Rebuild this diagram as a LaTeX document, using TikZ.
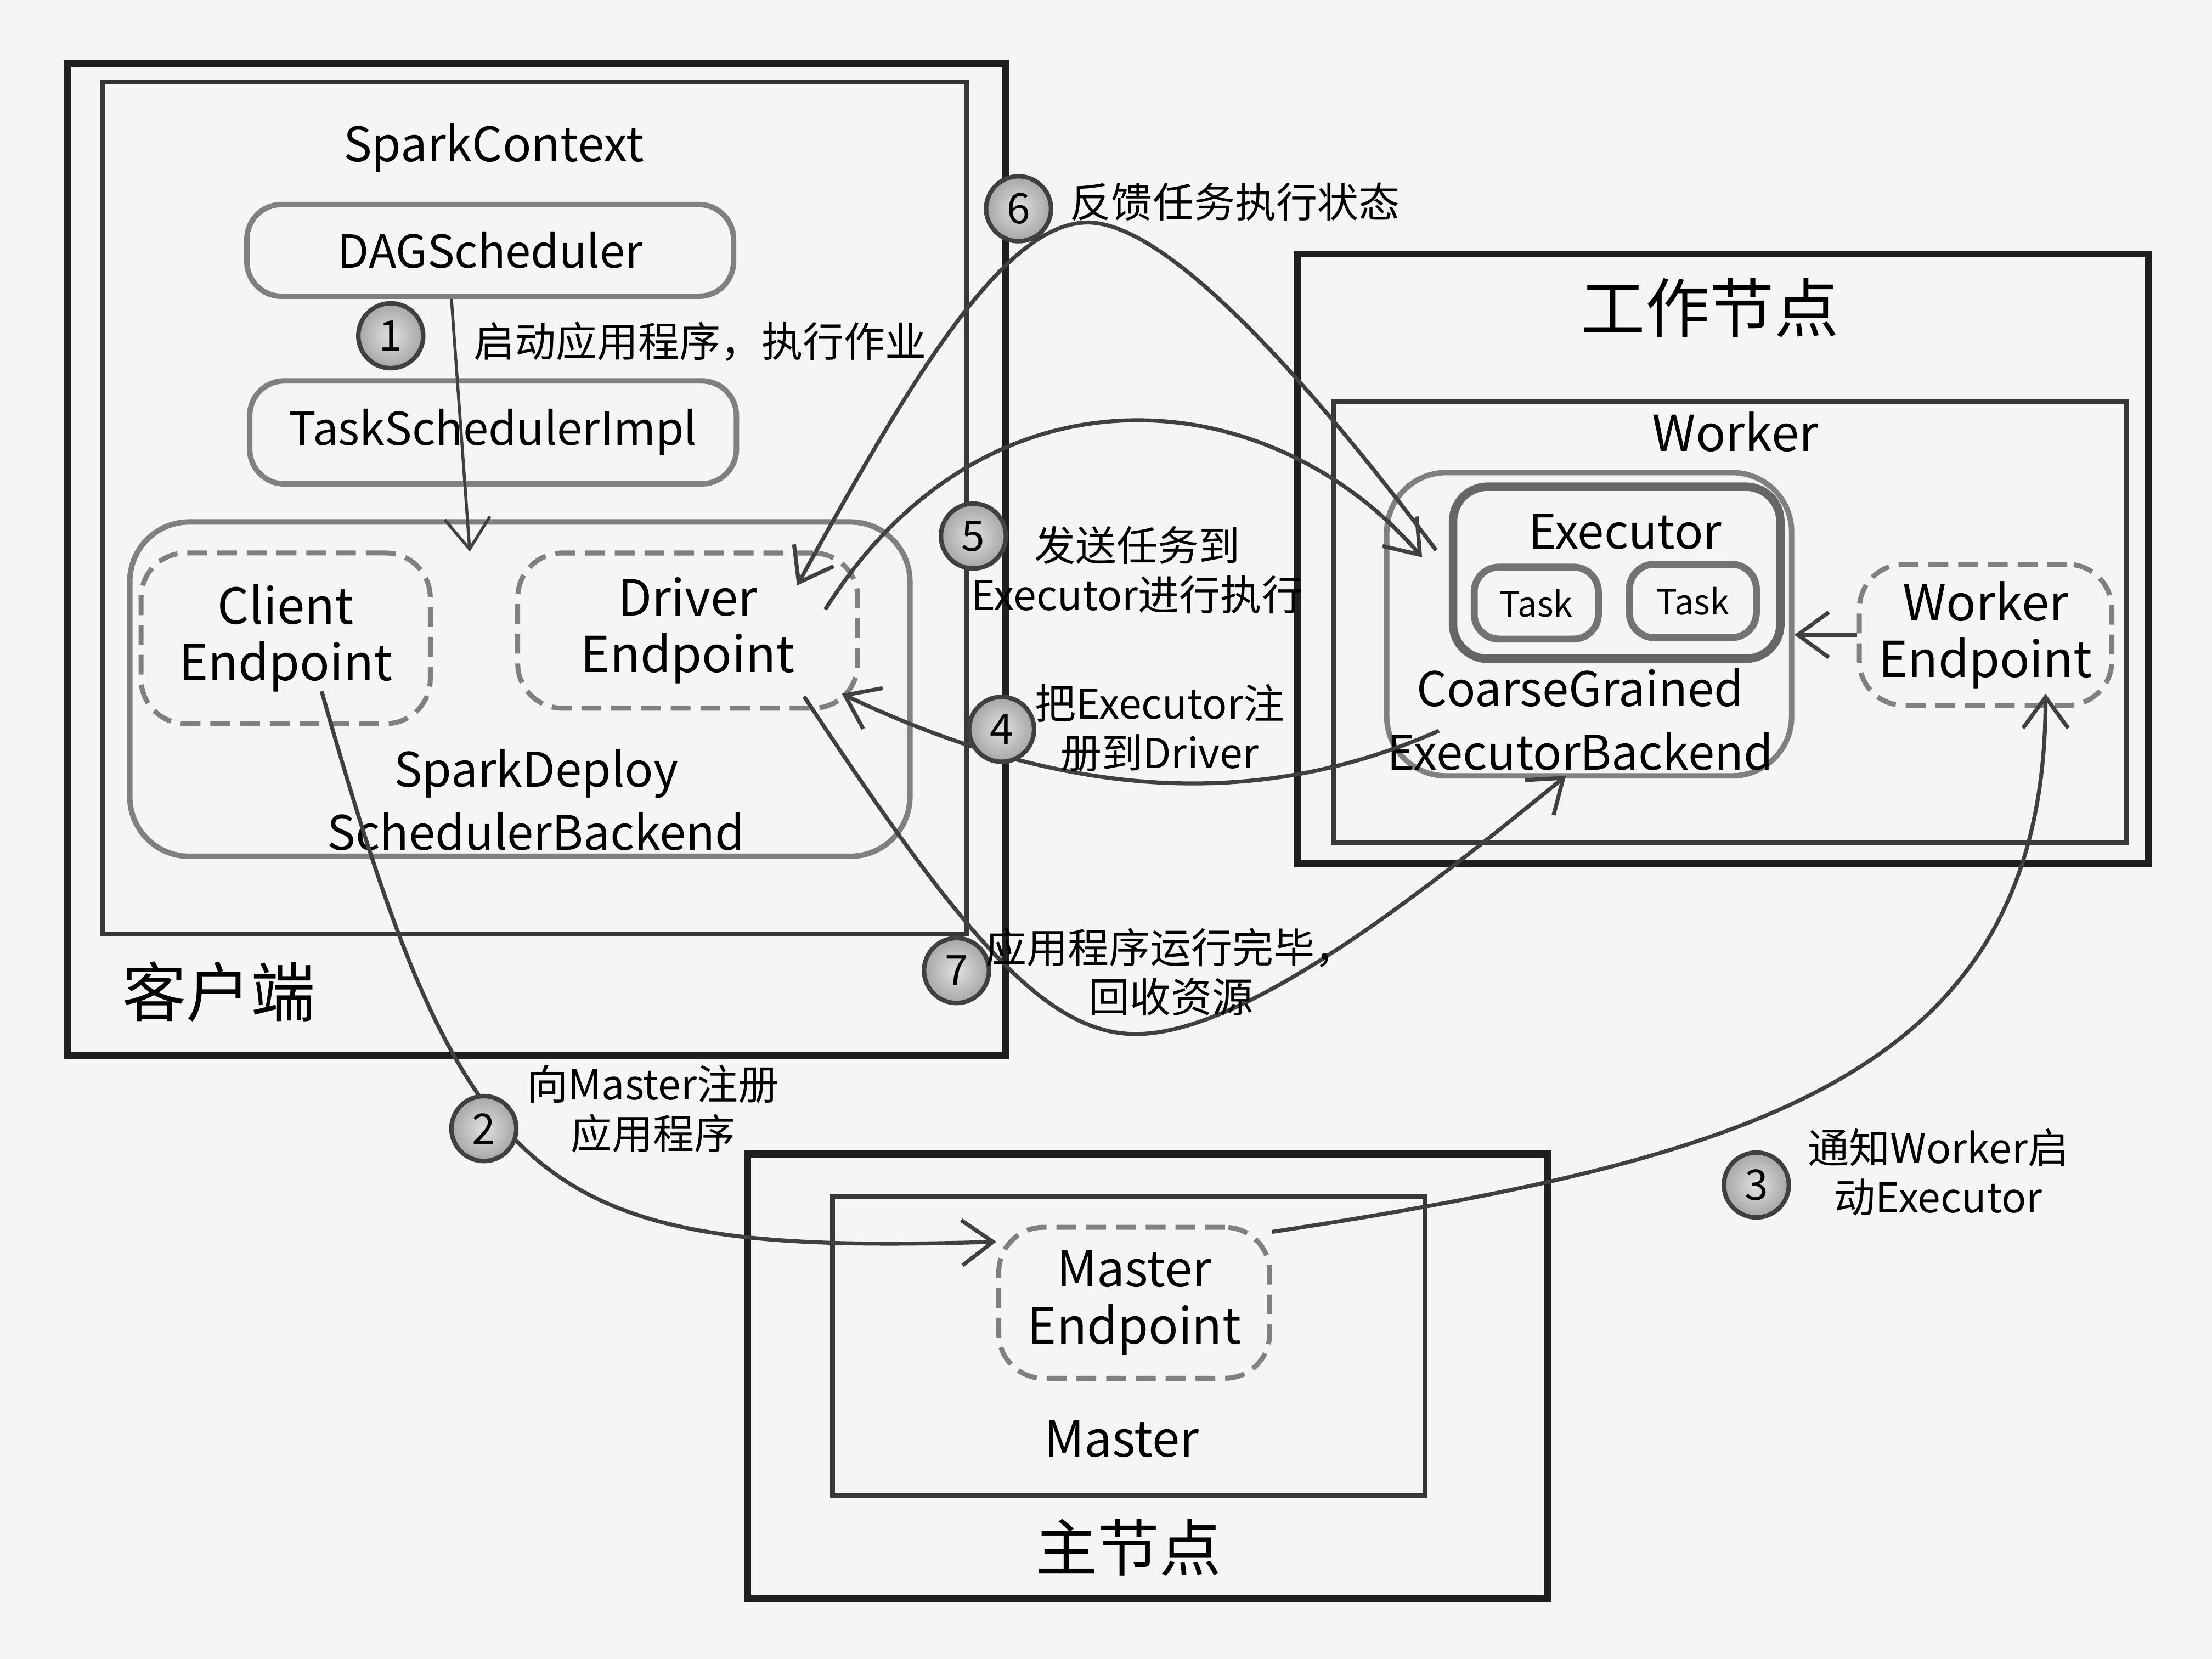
\documentclass[tikz,border=0pt]{standalone}
\usepackage{fontspec}
\setmainfont{Noto Sans CJK SC}
\usetikzlibrary{arrows.meta}

\tikzset{
  hostbox/.style={draw=black!88, line width=1.4pt, inner sep=0pt},
  procbox/.style={draw=black!78, line width=1pt, inner sep=0pt},
  compbox/.style={draw=black!50, line width=1.1pt, rounded corners=7pt, inner sep=0pt},
  epbox/.style={draw=black!50, line width=1pt, dash pattern=on 4pt off 2pt, rounded corners=9pt, inner sep=0pt, align=center, font=\fontsize{10}{11.4}\selectfont},
  stepnum/.style={circle, draw=black!75, line width=0.9pt, inner color=black!12, outer color=black!35, minimum size=0.46cm, inner sep=0pt, font=\fontsize{8.5}{9}\selectfont},
  msg/.style={font=\fontsize{8.3}{10}\selectfont, align=center, inner sep=0pt},
  flow/.style={draw=black!75, line width=0.8pt, -{Straight Barb[length=2.2mm,width=3.2mm]}},
}

\begin{document}
\begin{tikzpicture}
\fill[black!4] (0,0) rectangle (15.68,-11.76);
\useasboundingbox (0,0) rectangle (15.68,-11.76);

% client side
\node[hostbox, minimum width=6.65cm, minimum height=7.03cm] (client) at (3.805,-3.965) {};
\node[procbox, minimum width=6.12cm, minimum height=6.04cm] (sc) at (3.79,-3.60) {};
\node[font=\fontsize{9.6}{11}\selectfont] (sctitle) at (3.50,-1.05) {SparkContext};
\node[compbox, minimum width=3.45cm, minimum height=0.65cm, font=\fontsize{9.2}{11}\selectfont] (dag) at (3.475,-1.775) {DAGScheduler};
\node[compbox, minimum width=3.45cm, minimum height=0.73cm, font=\fontsize{9.2}{11}\selectfont] (tsi) at (3.495,-3.065) {TaskSchedulerImpl};
\node[compbox, rounded corners=12pt, minimum width=5.53cm, minimum height=2.37cm] (sdb) at (3.685,-4.885) {};
\node[align=center, font=\fontsize{9.6}{12.8}\selectfont] (sdbtitle) at (3.80,-5.67) {SparkDeploy\\SchedulerBackend};
\node[epbox, minimum width=2.05cm, minimum height=1.21cm] (cep) at (2.025,-4.525) {Client\\Endpoint};
\node[epbox, minimum width=2.41cm, minimum height=1.10cm] (dep) at (4.875,-4.47) {Driver\\Endpoint};
\node[font=\fontsize{13}{14}\selectfont] (clienttitle) at (1.55,-7.03) {客户端};

% worker side
\node[hostbox, minimum width=6.03cm, minimum height=4.32cm] (wnode) at (12.215,-3.96) {};
\node[procbox, minimum width=5.62cm, minimum height=3.12cm] (worker) at (12.26,-4.41) {};
\node[font=\fontsize{13}{14}\selectfont] (wnodetitle) at (12.12,-2.18) {工作节点};
\node[font=\fontsize{10}{11}\selectfont] (workertitle) at (12.30,-3.06) {Worker};
\node[compbox, rounded corners=12pt, minimum width=2.87cm, minimum height=2.15cm] (cgb) at (11.265,-4.425) {};
\node[align=center, font=\fontsize{9.6}{12.8}\selectfont] (cgbtitle) at (11.20,-5.10) {CoarseGrained\\ExecutorBackend};
\node[compbox, draw=black!60, line width=1.7pt, minimum width=2.32cm, minimum height=1.22cm] (exec) at (11.46,-4.06) {};
\node[font=\fontsize{9.6}{11}\selectfont] (exectitle) at (11.52,-3.77) {Executor};
\node[compbox, draw=black!55, line width=1.4pt, rounded corners=5pt, minimum width=0.88cm, minimum height=0.51cm, font=\fontsize{7}{8}\selectfont] (taska) at (10.89,-4.275) {Task};
\node[compbox, draw=black!55, line width=1.4pt, rounded corners=5pt, minimum width=0.90cm, minimum height=0.52cm, font=\fontsize{7}{8}\selectfont] (taskb) at (12.00,-4.26) {Task};
\node[epbox, minimum width=1.79cm, minimum height=1.0cm] (wep) at (14.075,-4.50) {Worker\\Endpoint};

% master side
\node[hostbox, minimum width=5.67cm, minimum height=3.15cm] (mnode) at (8.135,-9.755) {};
\node[procbox, minimum width=4.2cm, minimum height=2.12cm] (master) at (8.00,-9.54) {};
\node[epbox, minimum width=1.92cm, minimum height=1.07cm] (mep) at (8.04,-9.235) {Master\\Endpoint};
\node[font=\fontsize{10}{11}\selectfont] (mastertitle) at (7.95,-10.20) {Master};
\node[font=\fontsize{12.5}{14}\selectfont] (mnodetitle) at (8.00,-10.97) {主节点};

% flows
\coordinate (peak6) at (7.76,-1.58);
\coordinate (low7) at (8.05,-7.33);
\draw[flow, line width=0.6pt] ([xshift=-0.275cm]dag.south) -- ([xshift=-0.355cm,yshift=-0.23cm]sdb.north);
\draw[flow] ([xshift=0.255cm,yshift=-0.375cm]cep.center) .. controls (3.30,-8.50) and (3.80,-8.90) .. ([yshift=-0.12cm]mep.north west);
\draw[flow] ([yshift=-0.05cm]mep.north east) .. controls (12.50,-8.20) and (14.50,-7.60) .. ([xshift=0.425cm,yshift=0.10cm]wep.south);
\draw[flow] ([xshift=-1.065cm,yshift=-0.755cm]cgb.center) .. controls (8.80,-5.80) and (7.40,-5.60) .. ([xshift=-0.13cm,yshift=0.12cm]dep.south east);
\draw[flow] ([xshift=0.975cm,yshift=0.15cm]dep.center) .. controls (7.00,-2.50) and (9.00,-2.70) .. ([xshift=0.27cm,yshift=-0.62cm]cgb.north west);
\draw[flow] ([xshift=0.37cm,yshift=-0.57cm]cgb.north west) .. controls (9.50,-3.00) and (8.40,-1.65) .. (peak6) .. controls (7.12,-1.51) and (6.40,-2.80) .. ([xshift=0.775cm,yshift=0.32cm]dep.center);
\draw[flow] ([xshift=0.825cm,yshift=0.10cm]dep.south) .. controls (6.80,-6.60) and (7.40,-7.33) .. (low7) .. controls (8.80,-7.33) and (10.00,-6.40) .. ([xshift=-0.165cm,yshift=0.02cm]cgb.south);
\draw[flow] (wep.west) -- (wep.west -| cgb.east);

% steps
\node[stepnum] (s1) at (2.77,-2.38) {1};
\node[msg, anchor=west] (m1) at (3.35,-2.42) {启动应用程序，执行作业};
\node[stepnum] (s2) at (3.43,-8.00) {2};
\node[msg] (m2) at (4.63,-7.86) {向Master注册\\应用程序};
\node[stepnum] (s3) at (12.45,-8.40) {3};
\node[msg] (m3) at (13.74,-8.31) {通知Worker启\\动Executor};
\node[stepnum] (s4) at (7.10,-5.17) {4};
\node[msg] (m4) at (8.22,-5.16) {把Executor注\\册到Driver};
\node[stepnum] (s5) at (6.90,-3.80) {5};
\node[msg] (m5) at (8.06,-4.04) {发送任务到\\Executor进行执行};
\node[stepnum] (s6) at (7.22,-1.48) {6};
\node[msg, anchor=west] (m6) at (7.58,-1.43) {反馈任务执行状态};
\node[stepnum] (s7) at (6.78,-6.88) {7};
\node[msg] (m7) at (8.30,-6.89) {应用程序运行完毕，\\回收资源};
\end{tikzpicture}
\end{document}
